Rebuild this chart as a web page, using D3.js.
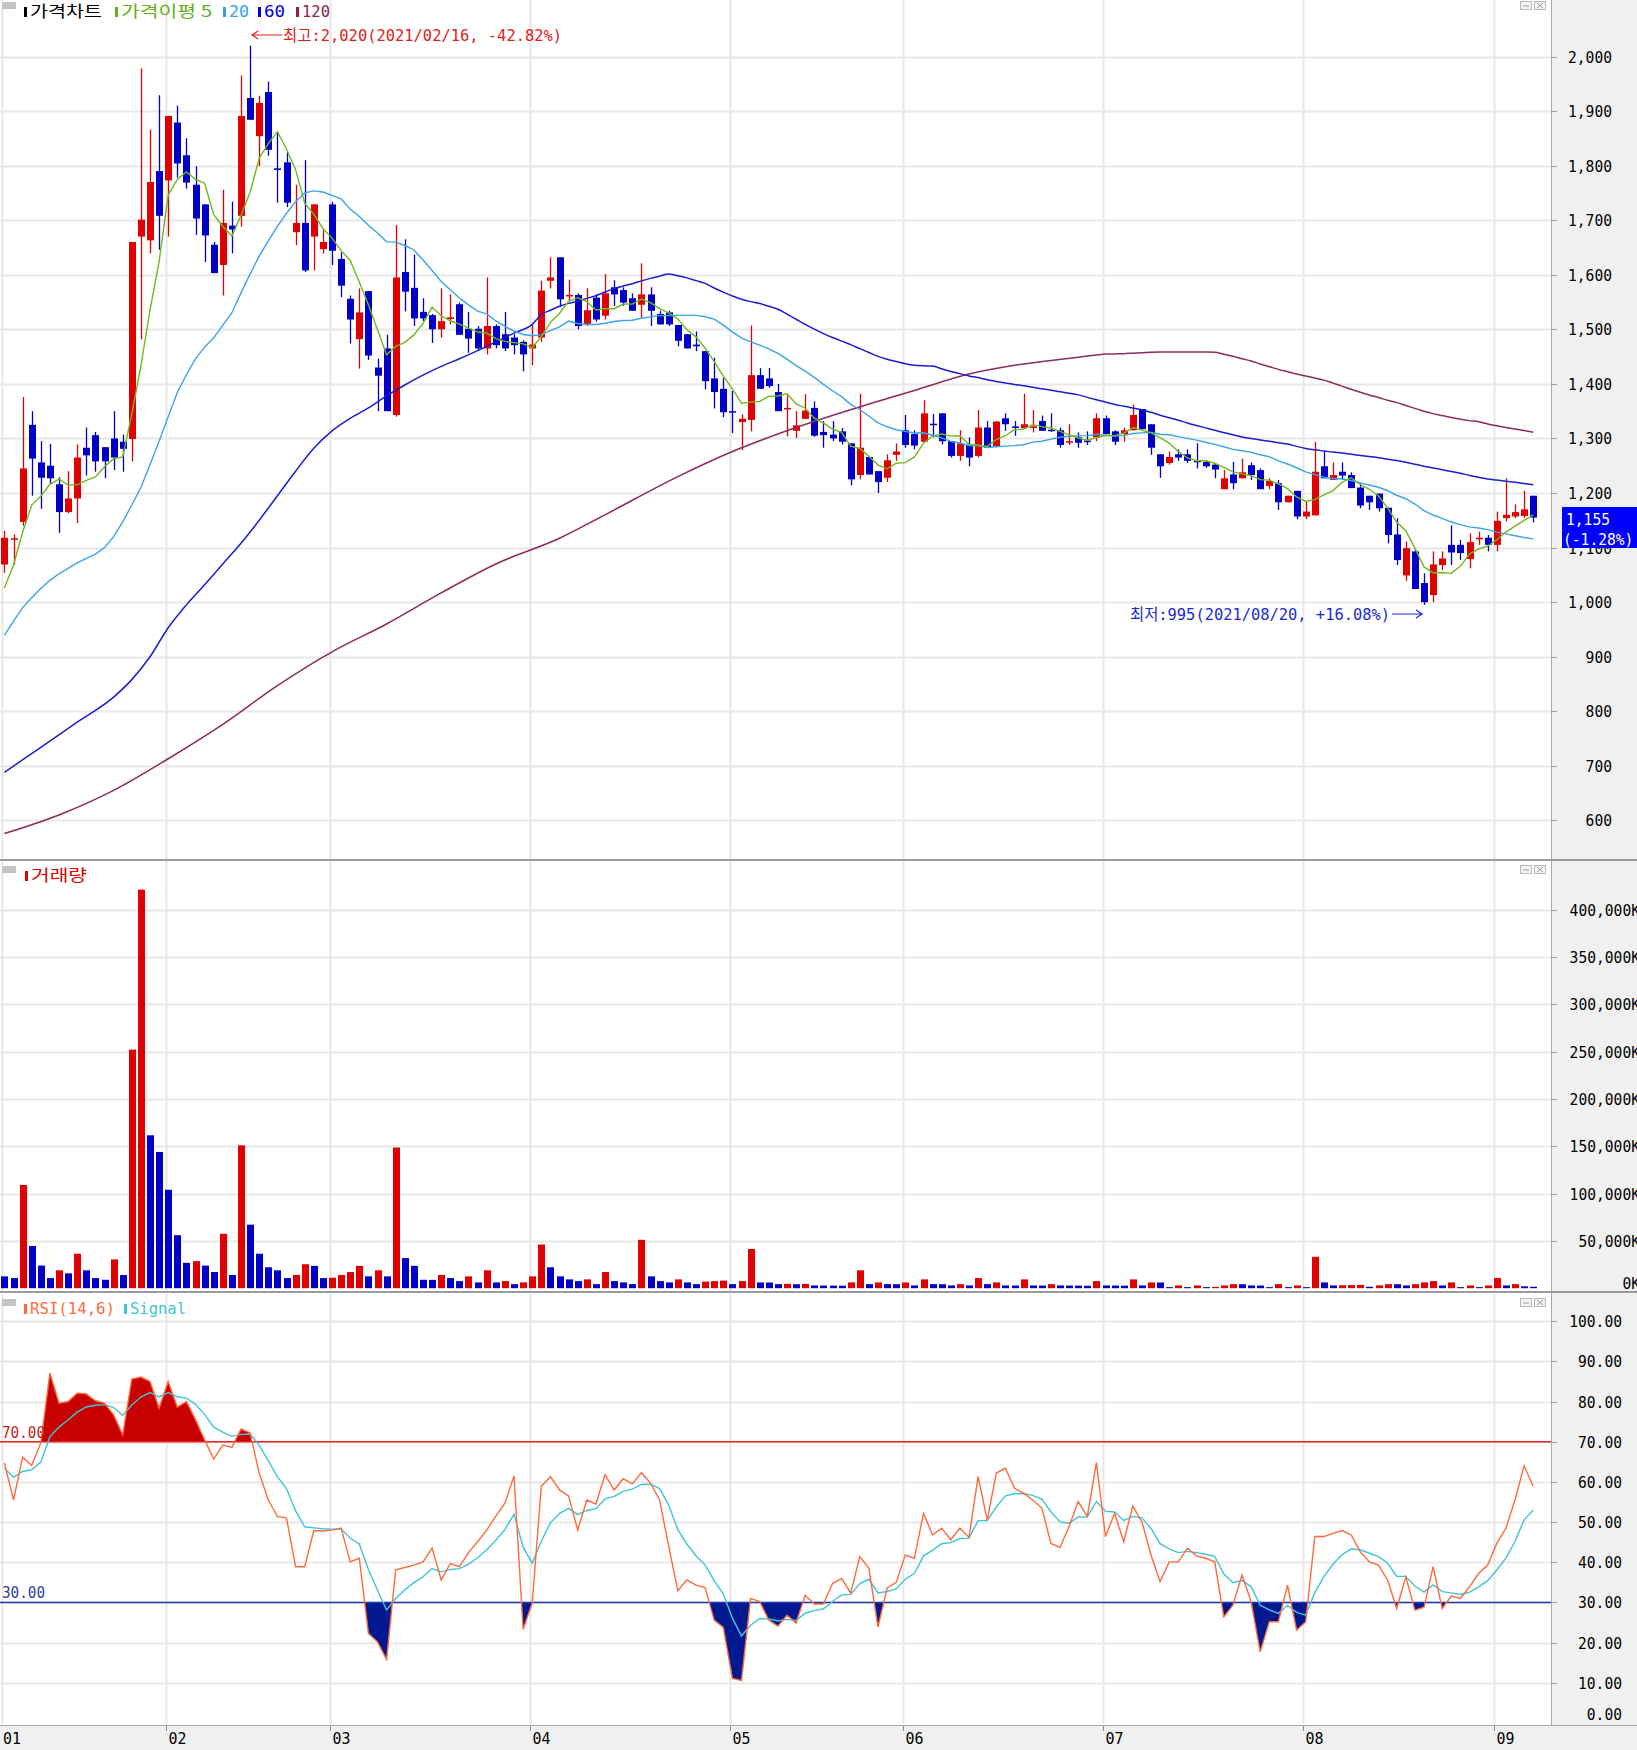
<!DOCTYPE html>
<html><head><meta charset="utf-8">
<script src="https://cdn.jsdelivr.net/npm/d3@7"></script>
<style>html,body{margin:0;padding:0;background:#fff;}svg{display:block;}</style>
</head><body>
<svg id="c" width="1637" height="1750"></svg>
<script>
// ---------------- DATA ----------------
const months = ["01","02","03","04","05","06","07","08","09"];
const daysPerMonth = [18,18,22,22,19,22,22,21,5];

const open = [1069,1115,1147,1325,1256,1250,1216,1165,1190,1283,
1306,1284,1300,1294,1299,1670,1663,1790,1773,1879,
1819,1765,1729,1655,1618,1690,1708,1924,1854,1935,
1795,1806,1678,1695,1670,1647,1729,1629,1556,1482,
1570,1430,1465,1343,1605,1576,1532,1526,1500,1519,
1546,1501,1501,1465,1506,1491,1485,1477,1465,1485,
1589,1632,1561,1563,1510,1558,1525,1577,1572,1557,
1545,1564,1528,1531,1508,1491,1472,1460,1410,1391,
1350,1330,1334,1416,1410,1385,1354,1314,1336,1356,
1312,1307,1313,1291,1233,1266,1240,1228,1270,1315,
1308,1294,1327,1346,1295,1268,1288,1268,1320,1286,
1337,1322,1319,1320,1332,1316,1315,1293,1302,1296,
1302,1337,1313,1308,1315,1354,1326,1271,1255,1271,
1271,1259,1257,1252,1207,1234,1227,1251,1242,1213,
1218,1183,1204,1157,1159,1249,1224,1239,1233,1210,
1195,1199,1173,1124,1049,1093,1035,1013,1068,1105,
1105,1079,1116,1118,1105,1154,1157,1158,1195];
const high = [1131,1124,1376,1350,1295,1290,1229,1240,1289,1320,
1312,1284,1350,1307,1660,1978,1866,1929,1891,1910,
1850,1799,1729,1660,1756,1734,1965,2020,1928,1954,
1861,1825,1765,1810,1729,1683,1734,1641,1562,1575,
1570,1446,1490,1691,1665,1637,1557,1528,1575,1564,
1549,1532,1506,1595,1509,1532,1491,1480,1508,1589,
1632,1632,1591,1566,1575,1564,1601,1590,1577,1566,
1621,1577,1534,1534,1508,1491,1496,1460,1448,1411,
1387,1344,1507,1429,1429,1400,1379,1350,1381,1368,
1332,1332,1319,1291,1382,1266,1240,1271,1291,1343,
1315,1370,1345,1346,1295,1315,1302,1352,1332,1332,
1346,1332,1382,1352,1342,1346,1320,1326,1311,1313,
1346,1342,1315,1320,1362,1354,1326,1271,1276,1280,
1280,1291,1260,1255,1242,1257,1263,1256,1245,1227,
1224,1195,1204,1184,1294,1277,1256,1256,1238,1218,
1195,1199,1173,1154,1111,1096,1053,1093,1093,1141,
1114,1126,1129,1123,1166,1227,1179,1204,1195];
const low = [1054,1069,1140,1195,1171,1216,1127,1163,1145,1232,
1239,1227,1242,1239,1258,1482,1639,1646,1670,1778,
1758,1673,1623,1603,1562,1639,1688,1884,1799,1818,
1732,1724,1654,1605,1608,1639,1618,1559,1474,1428,
1444,1350,1350,1340,1533,1506,1515,1475,1485,1509,
1490,1457,1462,1454,1465,1460,1454,1423,1434,1477,
1575,1541,1552,1500,1506,1514,1518,1543,1543,1534,
1521,1506,1509,1506,1469,1465,1460,1390,1355,1339,
1310,1279,1313,1391,1393,1350,1304,1301,1336,1303,
1283,1295,1289,1214,1225,1234,1200,1220,1259,1283,
1280,1294,1302,1289,1265,1259,1249,1265,1283,1284,
1314,1305,1318,1311,1314,1312,1283,1288,1283,1288,
1295,1308,1288,1294,1315,1317,1270,1228,1252,1259,
1255,1245,1246,1227,1207,1207,1227,1224,1207,1207,
1169,1183,1152,1152,1159,1227,1224,1224,1209,1172,
1169,1166,1108,1068,1039,1024,995,1000,1059,1068,
1077,1062,1105,1093,1093,1148,1154,1154,1146];
const close = [1118,1117,1245,1263,1228,1227,1165,1190,1265,1269,
1258,1258,1265,1281,1660,1701,1770,1708,1891,1804,
1769,1703,1672,1603,1695,1683,1891,1884,1915,1829,
1792,1732,1695,1608,1729,1660,1644,1580,1518,1531,
1452,1415,1350,1595,1569,1520,1520,1500,1515,1522,
1490,1483,1465,1506,1471,1465,1471,1454,1472,1571,
1595,1555,1563,1506,1535,1518,1566,1564,1549,1534,
1564,1534,1509,1509,1479,1465,1469,1405,1385,1348,
1348,1336,1416,1391,1396,1350,1356,1324,1351,1305,
1306,1300,1294,1225,1283,1234,1220,1260,1276,1288,
1287,1346,1325,1295,1268,1291,1265,1320,1283,1331,
1326,1320,1326,1322,1314,1314,1288,1295,1292,1295,
1337,1308,1294,1315,1343,1317,1283,1249,1266,1265,
1259,1257,1249,1243,1227,1218,1238,1233,1207,1222,
1183,1195,1157,1166,1239,1227,1233,1232,1209,1177,
1183,1172,1123,1077,1099,1024,1000,1069,1080,1091,
1090,1110,1118,1105,1149,1160,1165,1170,1155];

// volume in K shares
const volume = [12500,10700,109000,44600,23900,10700,18900,15700,36400,18900,
10700,8900,30400,13900,252000,421000,161500,143900,104000,56000,
26800,28600,23900,17100,57500,13900,150900,67100,36400,22100,
18900,10700,13900,25300,23600,10700,11000,13900,17100,23600,
12500,18900,12500,148600,31800,23600,8900,8800,13900,10700,
7500,12500,6100,18900,6100,7500,4300,6100,12500,46100,
22100,12500,9300,7500,9300,4300,17100,7500,6100,4300,
51100,12500,7500,6100,9300,6100,4300,7000,7500,8000,
4300,7500,41400,6100,6000,4300,4600,4200,4500,2900,
2800,2700,2600,6100,18900,4300,6100,4300,4200,6100,
2900,9300,4300,4200,2900,4300,2900,10700,4300,6100,
2900,2800,9300,2900,2800,4300,2900,2800,2700,2600,
7500,2900,2800,2700,9300,2900,6100,6000,1100,2900,
1100,2900,1100,1300,2900,4300,4200,2900,2800,1100,
4300,1100,2900,1100,33200,6100,2900,3100,3300,3500,
1500,3000,4300,4200,2900,4300,6100,7500,2900,6100,
1100,2900,1100,2900,10700,2900,4300,2000,1500];

const rsi = [64.7,55.5,66.2,64.1,69.7,87.1,79.6,80.0,82.1,81.9,
80.2,79.6,76.7,71.7,85.6,86.1,85.0,78.4,85.0,78.6,
80.0,75.5,70.5,65.7,69.2,68.6,73.2,72.2,62.2,55.5,
51.4,51.0,38.9,38.9,47.9,47.8,48.0,48.5,40.1,41.0,
22.3,20.2,15.8,38.1,38.7,39.3,40.1,43.5,35.6,39.7,
38.9,42.4,45.1,48.0,51.5,54.7,61.5,23.3,29.8,58.9,
61.3,58.0,56.5,48.0,55.5,54.5,61.8,58.0,60.8,59.5,
62.3,59.7,55.5,44.0,32.9,35.6,34.3,33.7,25.6,23.8,
11.1,10.6,31.0,30.2,25.6,24.1,26.8,24.9,31.8,29.6,
29.6,34.7,36.0,32.3,41.4,38.5,23.9,33.6,35.0,41.8,
41.0,52.2,46.8,48.5,45.6,48.5,46.2,61.3,50.5,62.2,
63.4,58.4,57.2,55.5,53.5,44.7,43.7,48.9,55.1,51.4,
64.8,46.4,52.2,45.1,54.0,50.1,41.8,35.2,40.1,40.1,
43.5,41.6,41.0,40.1,26.4,29.3,36.8,30.2,17.7,25.2,
25.2,34.3,23.1,25.2,46.4,46.4,47.2,47.9,46.8,42.6,
40.1,39.3,35.6,28.5,36.4,28.1,28.8,38.9,28.5,31.6,
31.0,33.9,37.2,39.3,44.7,48.5,55.5,64.0,58.9];
const signalSeed = 63.4;   // signal value at the first visible day

// moving-average values before enough visible history exists
const ma5Lead = [1026,1068,1128,1178];
const ma20Lead = [939,965,990,1008,1025,1040,1052,1062,1072,1080,1088,1100,1120,1147,1178,1210,1252,1295,1340];
const ma60Lead = [[0,688],[4,734],[8,780],[12,826],[14,858],[16,900],[18,953],[20,995],[22,1032],[24,1070],[26,1108],[28,1150],[30,1195],[32,1240],[34,1282],[36,1314],[38,1337],[40,1356],[42,1378],[44,1398],[46,1416],[48,1432],[50,1446],[52,1461],[54,1477],[56,1493],[58,1509]];
const ma120Lead = [[0,576],[6,610],[12,655],[18,713],[24,776],[30,847],[36,909],[42,960],[48,1017],[54,1070],[61,1117],[66,1160],[74,1230],[80,1276],[87,1320],[95,1363],[100,1388],[106,1418],[111,1434],[118,1449]];

const priceTicks = [600,700,800,900,1000,1100,1200,1300,1400,1500,1600,1700,1800,1900,2000];
const volumeTicks = [0,50000,100000,150000,200000,250000,300000,350000,400000];
const rsiTicks = [0,10,20,30,40,50,60,70,80,90,100];
const lastClose = 1155, lastChange = "-1.28%";
const highInfo = "최고:2,020(2021/02/16, -42.82%)";
const lowInfo = "최저:995(2021/08/20, +16.08%)";

// ---------------- LAYOUT ----------------
const svg = d3.select("#c");
const N = close.length;
const plotR = 1551;
const xc = d3.scaleLinear().domain([0, N - 1]).range([4.4, 4.4 + 9.1 * (N - 1)]);
const yP = d3.scaleLinear().domain([600, 2000]).range([820.4, 56.5]);
const yV = d3.scaleLinear().domain([0, 400000]).range([1288.2, 909.5]);
const yR = d3.scaleLinear().domain([0, 100]).range([1723, 1321.2]);
const panels = [[0, 859], [861, 1291], [1294, 1724]];

const UP = "#e00000", DOWN = "#0000c8";
const C5 = "#72b81e", C20 = "#3ba3ec", C60 = "#1c1cd0", C120 = "#8e2a5e";
const MONO = "'DejaVu Sans Mono', 'Liberation Mono', monospace";
const KR = "'Noto Sans CJK KR', 'Noto Sans', sans-serif";

const monthStart = [];
{ let s = 0; daysPerMonth.forEach(d => { monthStart.push(s); s += d; }); }

function monoText(g, x, y, str, opts) {
  const t = g.append("text").attr("x", x).attr("y", y).text(str)
    .attr("font-family", MONO).attr("font-size", opts.size || 16)
    .attr("fill", opts.fill || "#000")
    .attr("text-anchor", opts.anchor || "start")
    .attr("textLength", str.length * (opts.cw || 8.8)).attr("lengthAdjust", "spacingAndGlyphs");
  return t;
}

// backgrounds
svg.append("rect").attr("x", 0).attr("y", 0).attr("width", 1637).attr("height", 1750).attr("fill", "#fff");
svg.append("rect").attr("x", plotR).attr("y", 0).attr("width", 1637 - plotR).attr("height", 1750).attr("fill", "#f0f0f0");
svg.append("rect").attr("x", 0).attr("y", 1725).attr("width", 1637).attr("height", 25).attr("fill", "#f0f0f0");

// grid
const grid = svg.append("g");
panels.forEach(([t, b]) => {
  grid.append("line").attr("x1", 2.5).attr("x2", 2.5).attr("y1", t).attr("y2", b).attr("stroke", "#e2e2e2").attr("stroke-width", 1.5);
  monthStart.slice(1).forEach(s => {
    const gx = Math.round(xc(s) - 2.5) + 0.5;
    grid.append("line").attr("x1", gx).attr("x2", gx).attr("y1", t).attr("y2", b).attr("stroke", "#e6e6e6").attr("stroke-width", 2);
  });
});
function hgrid(ticks, scale) {
  ticks.forEach(v => {
    const gy = Math.round(scale(v)) + 0.5;
    grid.append("line").attr("x1", 0).attr("x2", plotR).attr("y1", gy).attr("y2", gy).attr("stroke", "#e8e8e8").attr("stroke-width", 2);
    grid.append("line").attr("x1", plotR).attr("x2", plotR + 6).attr("y1", gy).attr("y2", gy).attr("stroke", "#a0a0a0");
  });
}
hgrid(priceTicks, yP);
hgrid(volumeTicks.slice(1), yV);
hgrid(rsiTicks.slice(1), yR);

// ---------------- PRICE PANEL ----------------
const pg = svg.append("g");
for (let i = 0; i < N; i++) {
  const cx = Math.round(xc(i));
  const col = close[i] >= open[i] ? UP : DOWN;
  pg.append("line").attr("x1", cx + 0.5).attr("x2", cx + 0.5)
    .attr("y1", yP(high[i])).attr("y2", yP(low[i])).attr("stroke", col).attr("stroke-width", 1.3);
  const y1 = yP(Math.max(open[i], close[i])), y2 = yP(Math.min(open[i], close[i]));
  pg.append("rect").attr("x", cx - 3).attr("width", 7)
    .attr("y", y1).attr("height", Math.max(1.5, y2 - y1)).attr("fill", col);
}
function sma(n, i) { let s = 0; for (let k = i - n + 1; k <= i; k++) s += close[k]; return s / n; }
const ma5 = d3.range(N).map(i => [i, i < 4 ? ma5Lead[i] : sma(5, i)]);
const ma20 = d3.range(N).map(i => [i, i < 19 ? ma20Lead[i] : sma(20, i)]);
const ma60 = ma60Lead.concat(d3.range(59, N).map(i => [i, sma(60, i)]));
const ma120 = ma120Lead.concat(d3.range(119, N).map(i => [i, sma(120, i)]));
const maLine = d3.line().x(d => xc(d[0])).y(d => yP(d[1]));
const maCurve = d3.line().x(d => xc(d[0])).y(d => yP(d[1])).curve(d3.curveMonotoneX);
pg.append("path").attr("d", maCurve(ma120)).attr("fill", "none").attr("stroke", C120).attr("stroke-width", 1.5);
pg.append("path").attr("d", maCurve(ma60)).attr("fill", "none").attr("stroke", C60).attr("stroke-width", 1.5);
pg.append("path").attr("d", maLine(ma20)).attr("fill", "none").attr("stroke", C20).attr("stroke-width", 1.4);
pg.append("path").attr("d", maLine(ma5)).attr("fill", "none").attr("stroke", C5).attr("stroke-width", 1.4);

// high / low annotations
const iHigh = d3.maxIndex(high), iLow = d3.minIndex(low);
{
  const ax = xc(iHigh) + 2, ay = 35;
  pg.append("path").attr("d", `M${ax + 30},${ay}H${ax}M${ax + 6},${ay - 4}L${ax},${ay}L${ax + 6},${ay + 4}`)
    .attr("stroke", "#e02020").attr("fill", "none").attr("stroke-width", 1.2);
  pg.append("text").attr("x", ax + 31).attr("y", ay + 6).text(highInfo)
    .attr("font-family", MONO + "," + KR).attr("font-size", 16).attr("fill", "#e02020")
    .attr("textLength", 279).attr("lengthAdjust", "spacingAndGlyphs");
  const bx = xc(iLow) - 2, by = 614;
  pg.append("path").attr("d", `M${bx - 30},${by}H${bx}M${bx - 6},${by - 4}L${bx},${by}L${bx - 6},${by + 4}`)
    .attr("stroke", "#1a2ad0").attr("fill", "none").attr("stroke-width", 1.2);
  pg.append("text").attr("x", bx - 32).attr("y", by + 6).text(lowInfo).attr("text-anchor", "end")
    .attr("font-family", MONO + "," + KR).attr("font-size", 16).attr("fill", "#1a2ad0")
    .attr("textLength", 260).attr("lengthAdjust", "spacingAndGlyphs");
}

// ---------------- VOLUME PANEL ----------------
const vg = svg.append("g");
for (let i = 0; i < N; i++) {
  const cx = Math.round(xc(i));
  const col = i > 0 && volume[i] > volume[i - 1] ? UP : DOWN;
  vg.append("rect").attr("x", cx - 3).attr("width", 7)
    .attr("y", yV(volume[i])).attr("height", yV(0) - yV(volume[i])).attr("fill", col);
}

// ---------------- RSI PANEL ----------------
const rg = svg.append("g");
const signal = [];
rsi.forEach((v, i) => signal.push(i === 0 ? signalSeed : signal[i - 1] + (2 / 7) * (v - signal[i - 1])));
const defs = svg.append("defs");
defs.append("clipPath").attr("id", "above70").append("rect").attr("x", 0).attr("y", panels[2][0]).attr("width", plotR).attr("height", yR(70) - panels[2][0]);
defs.append("clipPath").attr("id", "below30").append("rect").attr("x", 0).attr("y", yR(30)).attr("width", plotR).attr("height", panels[2][1] - yR(30));
rg.append("path").attr("clip-path", "url(#above70)")
  .attr("d", d3.area().x((d, i) => xc(i)).y0(yR(70)).y1(d => yR(d))(rsi)).attr("fill", "#c80000");
rg.append("path").attr("clip-path", "url(#below30)")
  .attr("d", d3.area().x((d, i) => xc(i)).y0(yR(30)).y1(d => yR(d))(rsi)).attr("fill", "#001890");
rg.append("line").attr("x1", 0).attr("x2", plotR).attr("y1", yR(70)).attr("y2", yR(70)).attr("stroke", "#ee1c1c").attr("stroke-width", 1.5);
rg.append("line").attr("x1", 0).attr("x2", plotR).attr("y1", yR(30)).attr("y2", yR(30)).attr("stroke", "#2038a8").attr("stroke-width", 1.5);
rg.append("path").attr("d", d3.line().x((d, i) => xc(i)).y(d => yR(d))(signal)).attr("fill", "none").attr("stroke", "#40c4d8").attr("stroke-width", 1.4);
rg.append("path").attr("d", d3.line().x((d, i) => xc(i)).y(d => yR(d))(rsi)).attr("fill", "none").attr("stroke", "#ff6a3d").attr("stroke-width", 1.4);
monoText(rg, 2, yR(70) - 4, "70.00", { fill: "#cc2222", cw: 8.6 });
monoText(rg, 2, yR(30) - 4, "30.00", { fill: "#2a3ea0", cw: 8.6 });

// ---------------- AXES ----------------
const ax = svg.append("g");
priceTicks.forEach(v => monoText(ax, 1612, yP(v) + 6, d3.format(",")(v), { anchor: "end" }));
volumeTicks.forEach(v => monoText(ax, 1640, Math.min(yV(v) + 6, 1289), d3.format(",")(v) + "K", { anchor: "end" }));
rsiTicks.forEach(v => monoText(ax, 1622, Math.min(yR(v) + 6, 1720), d3.format(".2f")(v), { anchor: "end" }));

// current price box
ax.append("rect").attr("x", 1562).attr("y", 507).attr("width", 75).attr("height", 41).attr("fill", "#0000ff");
monoText(ax, 1566, 525, d3.format(",")(lastClose), { fill: "#fff", cw: 8.8 });
monoText(ax, 1563, 545, "(" + lastChange + ")", { fill: "#fff", cw: 8.8 });

// separators and borders
svg.append("line").attr("x1", plotR + 0.5).attr("x2", plotR + 0.5).attr("y1", 0).attr("y2", 1725).attr("stroke", "#a8a8a8");
[[859, 2], [1291, 2]].forEach(([y, h]) => svg.append("rect").attr("x", 0).attr("y", y).attr("width", 1637).attr("height", h).attr("fill", "#9c9c9c"));
svg.append("line").attr("x1", 0).attr("x2", 1637).attr("y1", 1725.5).attr("y2", 1725.5).attr("stroke", "#a8a8a8");

// x axis
months.forEach((m, k) => {
  const gx = k === 0 ? 2.5 : Math.round(xc(monthStart[k]) - 2.5) + 0.5;
  if (k > 0) ax.append("line").attr("x1", gx).attr("x2", gx).attr("y1", 1725).attr("y2", 1731).attr("stroke", "#888");
  monoText(ax, k === 0 ? 3 : gx + 2, 1744, m, { cw: 9 });
});

// panel headers
function header(y, items) {
  svg.append("rect").attr("x", 2).attr("y", y - 9).attr("width", 14).attr("height", 7).attr("fill", "#c4c4c4");
  items.forEach(it => {
    svg.append("rect").attr("x", it.x - 6).attr("y", y - 4).attr("width", 3).attr("height", 10).attr("fill", it.c);
    svg.append("text").attr("x", it.x).attr("y", y + 6).text(it.t).attr("fill", it.c)
      .attr("font-family", it.mono ? MONO : KR).attr("font-size", 16)
      .attr("textLength", it.w).attr("lengthAdjust", "spacingAndGlyphs");
  });
  // window buttons
  [1520, 1534].forEach((bx, j) => {
    svg.append("rect").attr("x", bx + 0.5).attr("y", y - 9.5).attr("width", 11).attr("height", 8).attr("fill", "#f4f4f4").attr("stroke", "#b8b8b8");
    if (j === 0) svg.append("line").attr("x1", bx + 3).attr("x2", bx + 9).attr("y1", y - 5).attr("y2", y - 5).attr("stroke", "#999");
    else svg.append("path").attr("d", `M${bx + 3},${y - 8}L${bx + 9},${y - 3}M${bx + 9},${y - 8}L${bx + 3},${y - 3}`).attr("stroke", "#999");
  });
}
header(11, [
  { x: 30, t: "가격차트", c: "#000", w: 72 },
  { x: 121, t: "가격이평 5", c: "#62b020", w: 91 },
  { x: 229, t: "20", c: "#2f9ff0", w: 20, mono: true },
  { x: 264, t: "60", c: "#0000dd", w: 21, mono: true },
  { x: 302, t: "120", c: "#8b2252", w: 28, mono: true }
]);
header(875, [{ x: 31, t: "거래량", c: "#e00000", w: 56 }]);
header(1308, [
  { x: 30, t: "RSI(14,6)", c: "#ff6a3d", w: 85, mono: true },
  { x: 130, t: "Signal", c: "#40c4d8", w: 56, mono: true }
]);
</script>
</body></html>
